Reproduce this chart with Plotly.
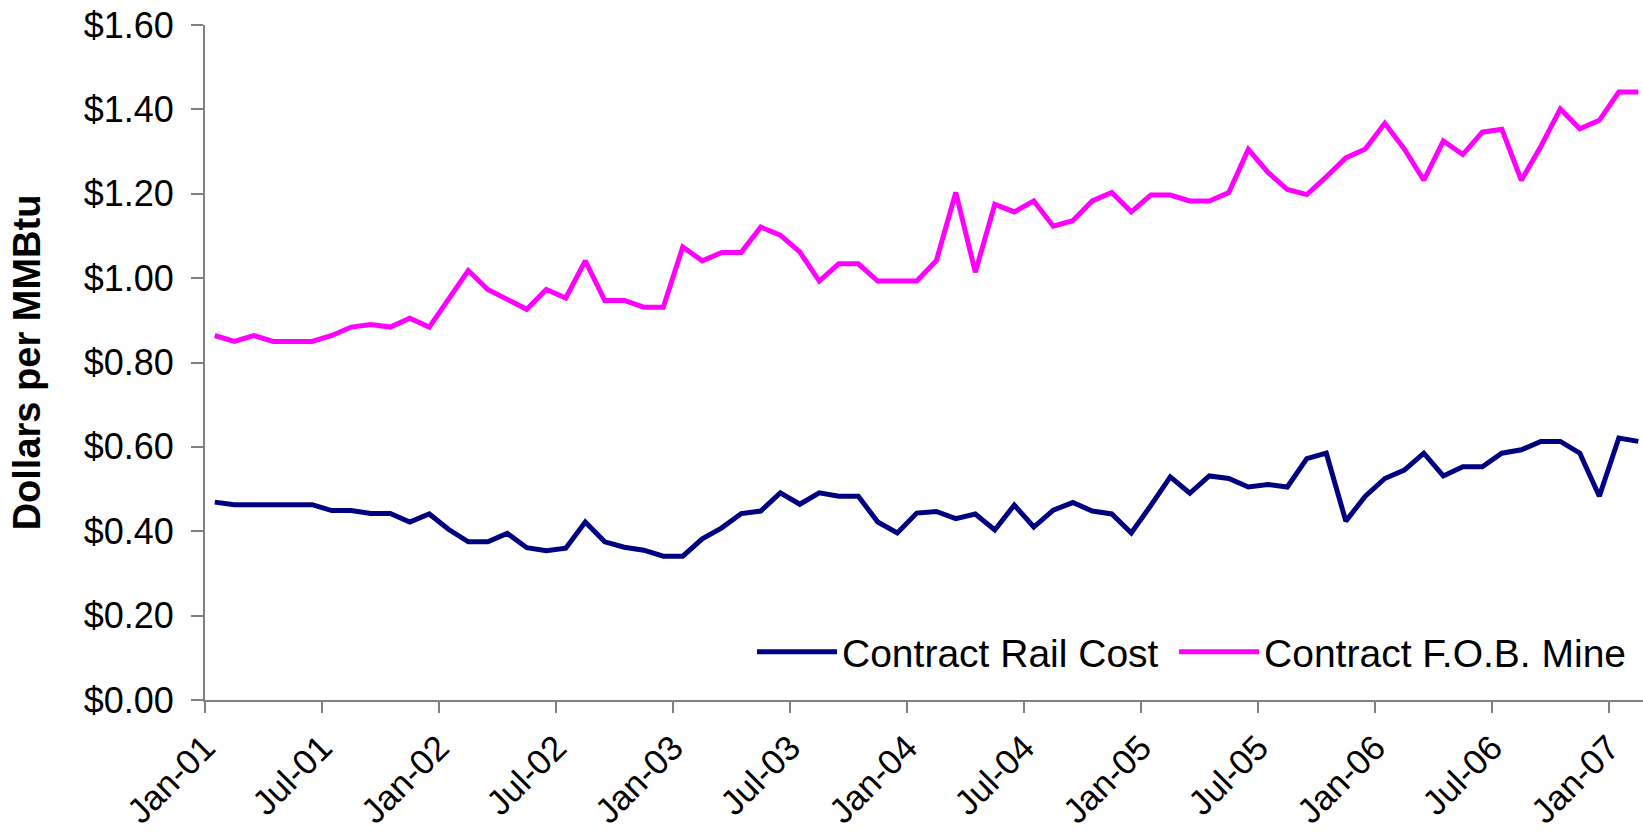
import plotly.graph_objects as go

month_abbr = ["Jan", "Feb", "Mar", "Apr", "May", "Jun", "Jul", "Aug", "Sep", "Oct", "Nov", "Dec"]
months = [f"{m}-{y:02d}" for y in range(1, 8) for m in month_abbr][:74]  # Jan-01 .. Feb-07

rail_cost = [
    0.469, 0.463, 0.463, 0.463, 0.463, 0.463, 0.449, 0.449, 0.442, 0.442,
    0.422, 0.441, 0.404, 0.375, 0.375, 0.395, 0.361, 0.354, 0.360, 0.422,
    0.375, 0.362, 0.355, 0.341, 0.341, 0.382, 0.408, 0.442, 0.448, 0.491,
    0.464, 0.491, 0.483, 0.483, 0.422, 0.396, 0.443, 0.447, 0.430, 0.441,
    0.403, 0.462, 0.410, 0.450, 0.468, 0.448, 0.441, 0.396, 0.461, 0.529,
    0.490, 0.531, 0.525, 0.505, 0.511, 0.505, 0.572, 0.585, 0.424, 0.483,
    0.525, 0.545, 0.585, 0.531, 0.553, 0.553, 0.585, 0.593, 0.613, 0.613,
    0.585, 0.483, 0.621, 0.613,
]

fob_mine = [
    0.864, 0.850, 0.864, 0.850, 0.850, 0.850, 0.864, 0.884, 0.890, 0.884,
    0.905, 0.884, 0.951, 1.018, 0.973, 0.949, 0.926, 0.973, 0.953, 1.041,
    0.947, 0.947, 0.931, 0.931, 1.074, 1.041, 1.061, 1.061, 1.121, 1.102,
    1.062, 0.993, 1.034, 1.034, 0.993, 0.993, 0.993, 1.041, 1.203, 1.014,
    1.175, 1.157, 1.183, 1.123, 1.136, 1.183, 1.203, 1.157, 1.197, 1.197,
    1.183, 1.183, 1.203, 1.305, 1.251, 1.210, 1.198, 1.240, 1.285, 1.306,
    1.367, 1.306, 1.232, 1.325, 1.293, 1.346, 1.353, 1.232, 1.312, 1.401,
    1.354, 1.374, 1.441, 1.441,
]

tick_labels = ["Jan-01", "Jul-01", "Jan-02", "Jul-02", "Jan-03", "Jul-03", "Jan-04",
               "Jul-04", "Jan-05", "Jul-05", "Jan-06", "Jul-06", "Jan-07"]
y_ticks = [0.0, 0.2, 0.4, 0.6, 0.8, 1.0, 1.2, 1.4, 1.6]

x_idx = list(range(len(months)))
tick_pos = [months.index(lbl) - 0.5 for lbl in tick_labels]

FONT = "Liberation Sans, Arial, sans-serif"
AXIS_COLOR = "#808080"

fig = go.Figure()
fig.add_trace(go.Scatter(
    x=x_idx, y=rail_cost, customdata=months, mode="lines", name="Contract Rail Cost",
    line=dict(color="#000080", width=5), legend="legend",
    hovertemplate="%{customdata}: $%{y:.2f}<extra></extra>",
))
fig.add_trace(go.Scatter(
    x=x_idx, y=fob_mine, customdata=months, mode="lines", name="Contract F.O.B. Mine",
    line=dict(color="#FF00FF", width=5), legend="legend2",
    hovertemplate="%{customdata}: $%{y:.2f}<extra></extra>",
))

legend_style = dict(
    orientation="h", xanchor="left", yanchor="middle", y=0.0711,
    bgcolor="rgba(0,0,0,0)", font=dict(family=FONT, size=39, color="black"),
    itemwidth=80,
)

fig.update_layout(
    width=1643, height=838,
    margin=dict(l=205, r=0, t=25, b=138, autoexpand=False),
    paper_bgcolor="white", plot_bgcolor="white",
    font=dict(family=FONT, size=36, color="black"),
    showlegend=True,
    legend=dict(x=0.3804, **legend_style),
    legend2=dict(x=0.6739, **legend_style),
    xaxis=dict(
        range=[-0.5, 73.24], tickmode="array", tickvals=tick_pos, ticktext=tick_labels,
        tickangle=-45, ticks="outside", ticklen=11, tickwidth=1.5, tickcolor=AXIS_COLOR,
        showline=True, linecolor=AXIS_COLOR, linewidth=2, showgrid=False, zeroline=False,
        tickfont=dict(family=FONT, size=35, color="black"), ticklabelstandoff=0,
        automargin=False, ticklabeloverflow="allow",
    ),
    yaxis=dict(
        range=[0, 1.6], tickmode="array", tickvals=y_ticks, tickformat="$.2f",
        ticks="outside", ticklen=12, tickwidth=1.5, tickcolor=AXIS_COLOR,
        showline=True, linecolor=AXIS_COLOR, linewidth=2, showgrid=False, zeroline=False,
        tickfont=dict(family=FONT, size=36, color="black"), ticklabelstandoff=10,
        automargin=False, ticklabeloverflow="allow",
        title=dict(text="<b>Dollars per MMBtu</b>", font=dict(family=FONT, size=38, color="black"), standoff=31),
    ),
)

fig.write_html(
    "out.html",
    config={"displayModeBar": False},
    post_script="document.body.style.margin='0';document.body.style.overflow='hidden';",
)
